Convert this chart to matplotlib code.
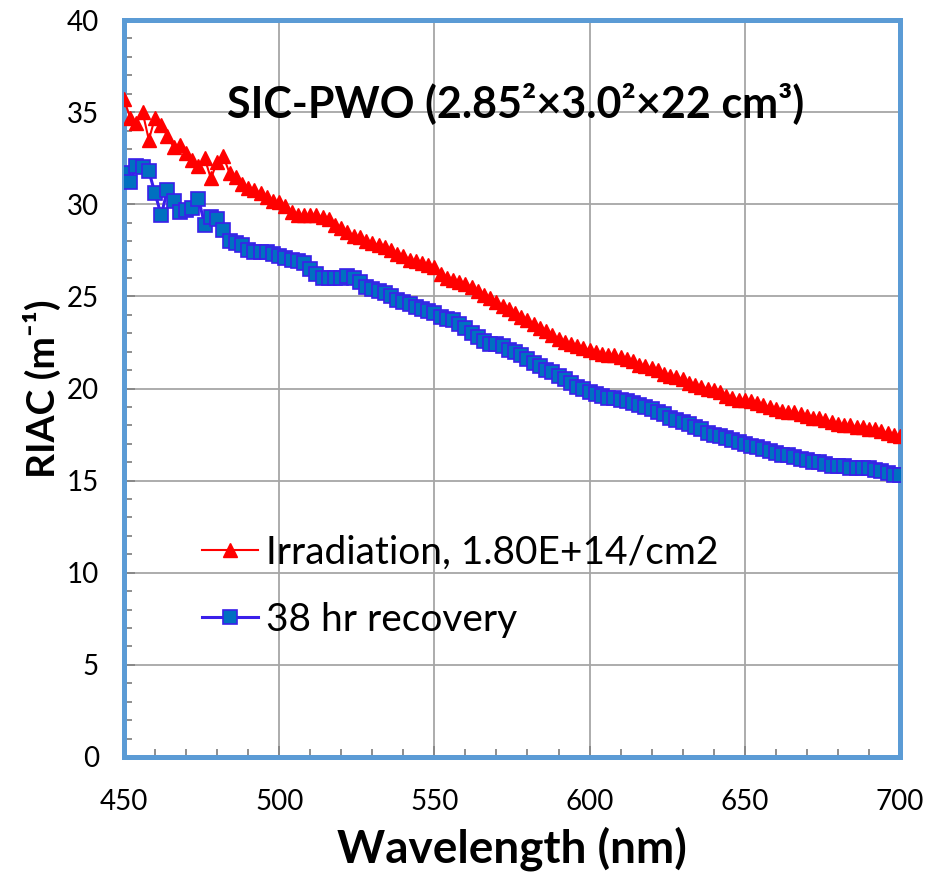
import numpy as np
import matplotlib
matplotlib.use("Agg")
import matplotlib.pyplot as plt
from matplotlib.ticker import MultipleLocator

plt.rcParams['font.family'] = ['Lato', 'DejaVu Sans']

# wavelength grid (nm), one point every 2 nm
wavelength = np.arange(450, 701, 2)

riac_irradiation = [
    35.7, 34.7, 34.4, 35.0, 33.5, 34.7, 34.3, 33.7, 33.1, 33.2,
    32.8, 32.4, 32.1, 32.5, 31.4, 32.3, 32.6, 31.7, 31.5, 31.1,
    30.9, 30.8, 30.6, 30.4, 30.2, 30.1, 29.9, 29.6, 29.4, 29.4,
    29.4, 29.4, 29.3, 29.2, 28.9, 28.7, 28.5, 28.3, 28.2, 28.0,
    27.9, 27.8, 27.7, 27.5, 27.3, 27.2, 27.0, 26.9, 26.8, 26.7,
    26.6, 26.2, 26.0, 25.9, 25.8, 25.7, 25.5, 25.3, 25.1, 24.9,
    24.7, 24.5, 24.3, 24.1, 23.9, 23.7, 23.5, 23.3, 23.1, 22.9,
    22.7, 22.5, 22.4, 22.3, 22.2, 22.1, 22.0, 21.9, 21.8, 21.8,
    21.7, 21.6, 21.5, 21.3, 21.2, 21.1, 21.0, 20.8, 20.7, 20.6,
    20.5, 20.3, 20.2, 20.1, 20.0, 19.9, 19.8, 19.6, 19.5, 19.4,
    19.4, 19.3, 19.2, 19.1, 19.0, 18.9, 18.8, 18.7, 18.7, 18.6,
    18.5, 18.4, 18.4, 18.3, 18.2, 18.1, 18.0, 18.0, 17.9, 17.9,
    17.8, 17.8, 17.7, 17.6, 17.5, 17.4,
]

riac_recovery = [
    31.7, 31.2, 32.1, 32.0, 31.8, 30.6, 29.4, 30.8, 30.2, 29.6,
    29.7, 29.8, 30.3, 28.9, 29.3, 29.2, 28.6, 28.0, 27.9, 27.8,
    27.5, 27.4, 27.4, 27.4, 27.3, 27.2, 27.1, 27.0, 26.9, 26.8,
    26.5, 26.2, 26.0, 26.0, 26.0, 26.0, 26.1, 26.0, 25.8, 25.5,
    25.4, 25.3, 25.2, 25.0, 24.8, 24.7, 24.6, 24.4, 24.3, 24.2,
    24.1, 23.9, 23.8, 23.7, 23.5, 23.3, 23.0, 22.8, 22.6, 22.4,
    22.4, 22.3, 22.1, 22.0, 21.8, 21.6, 21.4, 21.2, 21.0, 20.9,
    20.7, 20.5, 20.3, 20.1, 20.0, 19.8, 19.7, 19.6, 19.5, 19.5,
    19.4, 19.3, 19.2, 19.1, 19.0, 18.9, 18.7, 18.6, 18.4, 18.3,
    18.2, 18.1, 17.9, 17.8, 17.6, 17.5, 17.4, 17.3, 17.2, 17.1,
    17.0, 16.9, 16.8, 16.7, 16.6, 16.5, 16.4, 16.4, 16.3, 16.2,
    16.1, 16.0, 16.0, 15.9, 15.8, 15.8, 15.8, 15.7, 15.7, 15.7,
    15.7, 15.6, 15.5, 15.4, 15.3, 15.3,
]

label_irr = 'Irradiation, 1.80E+14/cm2'
label_rec = '38 hr recovery'
title_text = 'SIC-PWO (2.85²×3.0²×22 cm³)'

fig = plt.figure(figsize=(9.28, 8.72), dpi=100)
ax = fig.add_axes([0.1336, 0.1319, 0.8362, 0.8451])

ax.plot(wavelength, riac_irradiation, color='#FF0000', lw=1.5, marker='^',
        markersize=10.5, markerfacecolor='#FF0000', markeredgecolor='#FF0000',
        label=label_irr, zorder=3)
ax.plot(wavelength, riac_recovery, color='#3A1FEA', lw=2.2, marker='s',
        markersize=10.5, markerfacecolor='#0070C0', markeredgecolor='#3A1FEA',
        markeredgewidth=1.2, label=label_rec, zorder=3)

ax.set_xlim(450, 700)
ax.set_ylim(0, 40)
ax.xaxis.set_major_locator(MultipleLocator(50))
ax.xaxis.set_minor_locator(MultipleLocator(10))
ax.yaxis.set_major_locator(MultipleLocator(5))
ax.yaxis.set_minor_locator(MultipleLocator(1))

ax.grid(True, which='major', color='#A6A6A6', lw=1.3, zorder=0)
ax.tick_params(which='both', direction='in', colors='#868686',
               labelcolor='black', labelsize=20)
ax.tick_params(which='major', length=8, width=1.3)
ax.tick_params(which='minor', length=6, width=1.3)
ax.tick_params(axis='x', which='major', pad=23)
ax.tick_params(axis='y', which='major', pad=18)

for s in ax.spines.values():
    s.set_color('#5B9BD5')
    s.set_linewidth(3.6)

ax.set_xlabel('Wavelength (nm)', fontsize=33, fontweight='bold', labelpad=8)
ax.set_ylabel('RIAC (m⁻¹)', fontsize=28, fontweight='bold', labelpad=4)

ax.text(0.505, 0.887, title_text, transform=ax.transAxes, ha='center',
        va='center', fontsize=31, fontweight='bold', zorder=4)

ax.legend(loc='upper left', bbox_to_anchor=(0.08, 0.323), frameon=False,
          fontsize=28, handlelength=1.45, handletextpad=0.2, labelspacing=0.8,
          borderaxespad=0)

fig.savefig('out.png', dpi=100)
